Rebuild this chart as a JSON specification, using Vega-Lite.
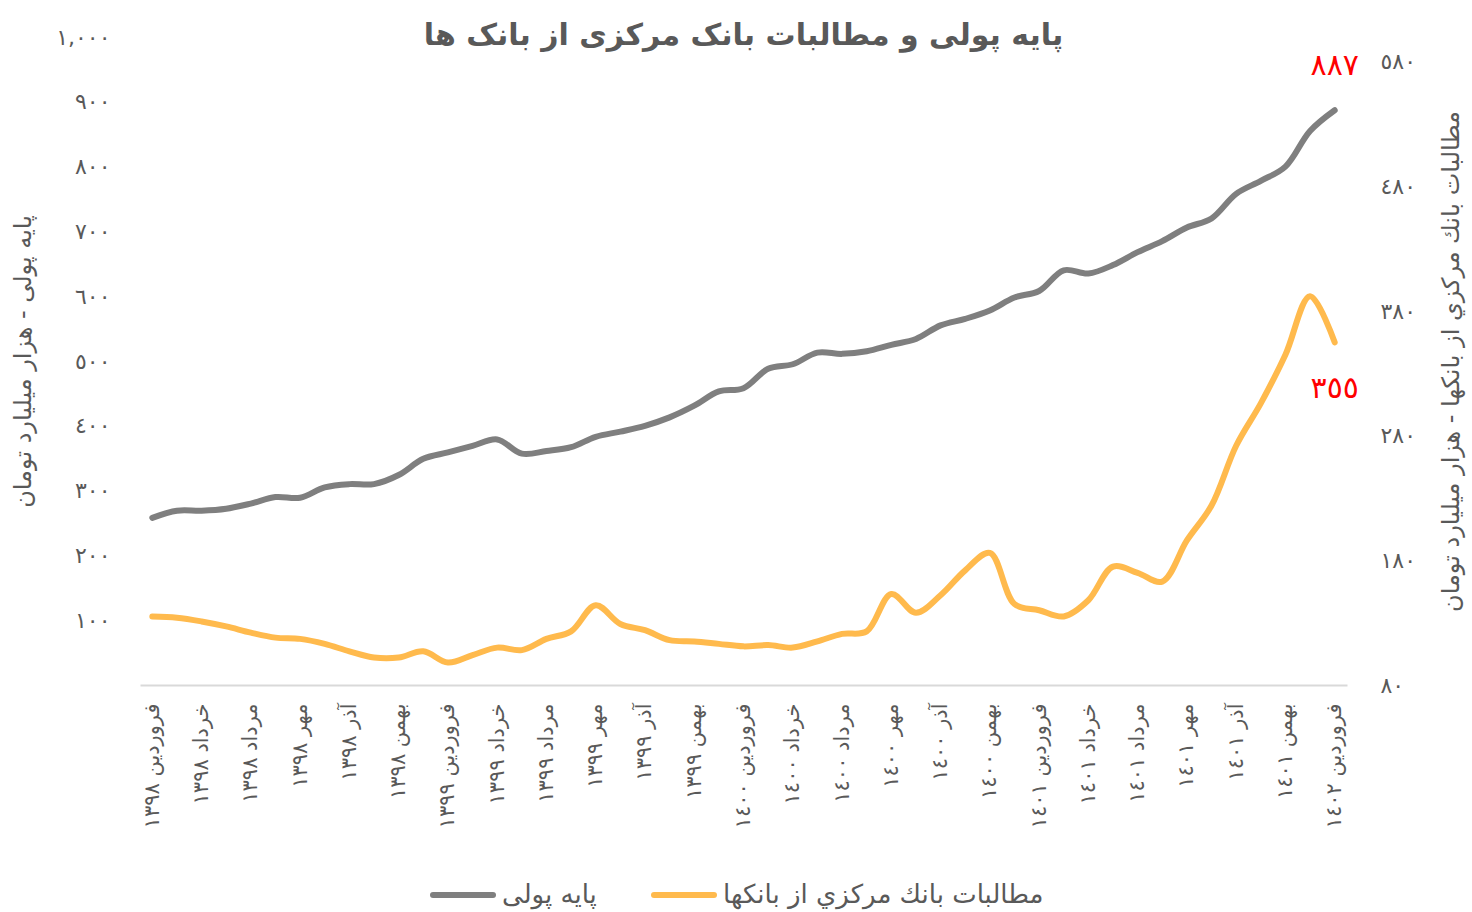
{
  "$schema": "https://vega.github.io/schema/vega-lite/v6.json",
  "width": 1207,
  "height": 648,
  "autosize": {"type": "none"},
  "padding": {"left": 140, "top": 37, "right": 125, "bottom": 227},
  "background": "white",
  "title": {"text": "پایه پولی و مطالبات بانک مرکزی از بانک ها", "fontSize": 30, "fontWeight": "bold", "color": "#595959", "font": "DejaVu Sans", "anchor": "middle", "frame": "group", "offset": -25},
  "data": {"values": [
    {"m": "فروردین ١٣٩٨", "پایه پولی": 258, "مطالبات بانك مركزي از بانكها": 135},
    {"m": "اردیبهشت ١٣٩٨", "پایه پولی": 269, "مطالبات بانك مركزي از بانكها": 134},
    {"m": "خرداد ١٣٩٨", "پایه پولی": 269, "مطالبات بانك مركزي از بانكها": 131},
    {"m": "تیر ١٣٩٨", "پایه پولی": 272, "مطالبات بانك مركزي از بانكها": 127},
    {"m": "مرداد ١٣٩٨", "پایه پولی": 280, "مطالبات بانك مركزي از بانكها": 122},
    {"m": "شهریور ١٣٩٨", "پایه پولی": 290, "مطالبات بانك مركزي از بانكها": 118},
    {"m": "مهر ١٣٩٨", "پایه پولی": 289, "مطالبات بانك مركزي از بانكها": 117},
    {"m": "آبان ١٣٩٨", "پایه پولی": 305, "مطالبات بانك مركزي از بانكها": 113},
    {"m": "آذر ١٣٩٨", "پایه پولی": 310, "مطالبات بانك مركزي از بانكها": 107},
    {"m": "دی ١٣٩٨", "پایه پولی": 310, "مطالبات بانك مركزي از بانكها": 102},
    {"m": "بهمن ١٣٩٨", "پایه پولی": 324, "مطالبات بانك مركزي از بانكها": 102},
    {"m": "اسفند ١٣٩٨", "پایه پولی": 349, "مطالبات بانك مركزي از بانكها": 107},
    {"m": "فروردین ١٣٩٩", "پایه پولی": 359, "مطالبات بانك مركزي از بانكها": 98},
    {"m": "اردیبهشت ١٣٩٩", "پایه پولی": 369, "مطالبات بانك مركزي از بانكها": 104},
    {"m": "خرداد ١٣٩٩", "پایه پولی": 379, "مطالبات بانك مركزي از بانكها": 110},
    {"m": "تیر ١٣٩٩", "پایه پولی": 357, "مطالبات بانك مركزي از بانكها": 108},
    {"m": "مرداد ١٣٩٩", "پایه پولی": 361, "مطالبات بانك مركزي از بانكها": 117},
    {"m": "شهریور ١٣٩٩", "پایه پولی": 367, "مطالبات بانك مركزي از بانكها": 123},
    {"m": "مهر ١٣٩٩", "پایه پولی": 383, "مطالبات بانك مركزي از بانكها": 144},
    {"m": "آبان ١٣٩٩", "پایه پولی": 391, "مطالبات بانك مركزي از بانكها": 129},
    {"m": "آذر ١٣٩٩", "پایه پولی": 400, "مطالبات بانك مركزي از بانكها": 124},
    {"m": "دی ١٣٩٩", "پایه پولی": 413, "مطالبات بانك مركزي از بانكها": 116},
    {"m": "بهمن ١٣٩٩", "پایه پولی": 431, "مطالبات بانك مركزي از بانكها": 115},
    {"m": "اسفند ١٣٩٩", "پایه پولی": 453, "مطالبات بانك مركزي از بانكها": 113},
    {"m": "فروردین ١٤٠٠", "پایه پولی": 458, "مطالبات بانك مركزي از بانكها": 111},
    {"m": "اردیبهشت ١٤٠٠", "پایه پولی": 488, "مطالبات بانك مركزي از بانكها": 112},
    {"m": "خرداد ١٤٠٠", "پایه پولی": 495, "مطالبات بانك مركزي از بانكها": 110},
    {"m": "تیر ١٤٠٠", "پایه پولی": 513, "مطالبات بانك مركزي از بانكها": 115},
    {"m": "مرداد ١٤٠٠", "پایه پولی": 511, "مطالبات بانك مركزي از بانكها": 121},
    {"m": "شهریور ١٤٠٠", "پایه پولی": 515, "مطالبات بانك مركزي از بانكها": 123},
    {"m": "مهر ١٤٠٠", "پایه پولی": 525, "مطالبات بانك مركزي از بانكها": 153},
    {"m": "آبان ١٤٠٠", "پایه پولی": 534, "مطالبات بانك مركزي از بانكها": 138},
    {"m": "آذر ١٤٠٠", "پایه پولی": 555, "مطالبات بانك مركزي از بانكها": 152},
    {"m": "دی ١٤٠٠", "پایه پولی": 565, "مطالبات بانك مركزي از بانكها": 172},
    {"m": "بهمن ١٤٠٠", "پایه پولی": 578, "مطالبات بانك مركزي از بانكها": 186},
    {"m": "اسفند ١٤٠٠", "پایه پولی": 598, "مطالبات بانك مركزي از بانكها": 145},
    {"m": "فروردین ١٤٠١", "پایه پولی": 608, "مطالبات بانك مركزي از بانكها": 140},
    {"m": "اردیبهشت ١٤٠١", "پایه پولی": 640, "مطالبات بانك مركزي از بانكها": 135},
    {"m": "خرداد ١٤٠١", "پایه پولی": 635, "مطالبات بانك مركزي از بانكها": 148},
    {"m": "تیر ١٤٠١", "پایه پولی": 648, "مطالبات بانك مركزي از بانكها": 175},
    {"m": "مرداد ١٤٠١", "پایه پولی": 668, "مطالبات بانك مركزي از بانكها": 170},
    {"m": "شهریور ١٤٠١", "پایه پولی": 685, "مطالبات بانك مركزي از بانكها": 163},
    {"m": "مهر ١٤٠١", "پایه پولی": 706, "مطالبات بانك مركزي از بانكها": 196},
    {"m": "آبان ١٤٠١", "پایه پولی": 720, "مطالبات بانك مركزي از بانكها": 224},
    {"m": "آذر ١٤٠١", "پایه پولی": 758, "مطالبات بانك مركزي از بانكها": 272},
    {"m": "دی ١٤٠١", "پایه پولی": 778, "مطالبات بانك مركزي از بانكها": 306},
    {"m": "بهمن ١٤٠١", "پایه پولی": 800, "مطالبات بانك مركزي از بانكها": 345},
    {"m": "اسفند ١٤٠١", "پایه پولی": 855, "مطالبات بانك مركزي از بانكها": 392},
    {"m": "فروردین ١٤٠٢", "پایه پولی": 887, "مطالبات بانك مركزي از بانكها": 355}
  ]},
  "transform": [{"fold": ["پایه پولی", "مطالبات بانك مركزي از بانكها"], "as": ["series", "value"]}],
  "encoding": {
    "x": {
      "field": "m", "type": "ordinal",
      "scale": {"type": "point", "padding": 0.5, "domain": ["فروردین ١٣٩٨","اردیبهشت ١٣٩٨","خرداد ١٣٩٨","تیر ١٣٩٨","مرداد ١٣٩٨","شهریور ١٣٩٨","مهر ١٣٩٨","آبان ١٣٩٨","آذر ١٣٩٨","دی ١٣٩٨","بهمن ١٣٩٨","اسفند ١٣٩٨","فروردین ١٣٩٩","اردیبهشت ١٣٩٩","خرداد ١٣٩٩","تیر ١٣٩٩","مرداد ١٣٩٩","شهریور ١٣٩٩","مهر ١٣٩٩","آبان ١٣٩٩","آذر ١٣٩٩","دی ١٣٩٩","بهمن ١٣٩٩","اسفند ١٣٩٩","فروردین ١٤٠٠","اردیبهشت ١٤٠٠","خرداد ١٤٠٠","تیر ١٤٠٠","مرداد ١٤٠٠","شهریور ١٤٠٠","مهر ١٤٠٠","آبان ١٤٠٠","آذر ١٤٠٠","دی ١٤٠٠","بهمن ١٤٠٠","اسفند ١٤٠٠","فروردین ١٤٠١","اردیبهشت ١٤٠١","خرداد ١٤٠١","تیر ١٤٠١","مرداد ١٤٠١","شهریور ١٤٠١","مهر ١٤٠١","آبان ١٤٠١","آذر ١٤٠١","دی ١٤٠١","بهمن ١٤٠١","اسفند ١٤٠١","فروردین ١٤٠٢"]},
      "axis": {
        "title": null,
        "values": ["فروردین ١٣٩٨","خرداد ١٣٩٨","مرداد ١٣٩٨","مهر ١٣٩٨","آذر ١٣٩٨","بهمن ١٣٩٨","فروردین ١٣٩٩","خرداد ١٣٩٩","مرداد ١٣٩٩","مهر ١٣٩٩","آذر ١٣٩٩","بهمن ١٣٩٩","فروردین ١٤٠٠","خرداد ١٤٠٠","مرداد ١٤٠٠","مهر ١٤٠٠","آذر ١٤٠٠","بهمن ١٤٠٠","فروردین ١٤٠١","خرداد ١٤٠١","مرداد ١٤٠١","مهر ١٤٠١","آذر ١٤٠١","بهمن ١٤٠١","فروردین ١٤٠٢"],
        "labelAngle": -90, "labelFontSize": 21, "labelColor": "#595959", "labelPadding": 18, "labelLimit": 300,
        "labelFont": "DejaVu Sans", "ticks": false, "grid": false, "domainColor": "#D9D9D9", "domainWidth": 2, "labelOverlap": false
      }
    }
  },
  "layer": [
    {
      "transform": [{"filter": "datum.series == 'پایه پولی'"}],
      "layer": [
        {
          "mark": {"type": "line", "strokeWidth": 6, "interpolate": "catmull-rom", "strokeCap": "round", "strokeJoin": "round"},
          "encoding": {
            "y": {"field": "value", "type": "quantitative", "scale": {"domain": [0, 1000], "nice": false, "zero": false},
              "axis": {"orient": "left", "title": "پایه پولی - هزار میلیارد تومان", "titleAngle": 270, "titleFontSize": 24, "titleFontWeight": "normal", "titleColor": "#595959", "titleFont": "DejaVu Sans", "titlePadding": 20,
                "values": [100, 200, 300, 400, 500, 600, 700, 800, 900, 1000], "format": ",d", "labelFontSize": 22, "labelColor": "#595959", "labelFont": "DejaVu Sans", "labelPadding": 30, "domain": false, "ticks": false, "grid": false}},
            "color": {"field": "series", "type": "nominal",
              "scale": {"domain": ["پایه پولی", "مطالبات بانك مركزي از بانكها"], "range": ["#7F7F7F", "#FFBA4D"]},
              "legend": {"title": null, "orient": "none", "legendX": 290, "legendY": 825, "direction": "horizontal", "symbolType": "stroke", "symbolStrokeWidth": 6, "symbolSize": 3600, "labelFontSize": 26, "labelColor": "#595959", "labelFont": "DejaVu Sans", "labelLimit": 500, "columnPadding": 45, "labelOffset": 6,
                "encode": {"symbols": {"update": {"strokeCap": {"value": "round"}}}}}}
          }
        },
        {
          "transform": [{"filter": "datum.m == 'فروردین ١٤٠٢'"}],
          "mark": {"type": "text", "dy": -44, "fontSize": 30, "fill": "#FF0000", "font": "DejaVu Sans"},
          "encoding": {
            "y": {"field": "value", "type": "quantitative"},
            "text": {"field": "value", "type": "quantitative", "format": "d"}
          }
        }
      ]
    },
    {
      "transform": [{"filter": "datum.series == 'مطالبات بانك مركزي از بانكها'"}],
      "layer": [
        {
          "mark": {"type": "line", "strokeWidth": 6, "interpolate": "catmull-rom", "strokeCap": "round", "strokeJoin": "round"},
          "encoding": {
            "y": {"field": "value", "type": "quantitative", "scale": {"domain": [80, 600], "nice": false, "zero": false},
              "axis": {"orient": "right", "title": "مطالبات بانك مركزي از بانكها - هزار ميليارد تومان", "titleAngle": 270, "titleBaseline": "top", "titleFontSize": 24, "titleFontWeight": "normal", "titleColor": "#595959", "titleFont": "DejaVu Sans", "titlePadding": 24,
                "values": [80, 180, 280, 380, 480, 580], "format": "d", "labelFontSize": 22, "labelColor": "#595959", "labelFont": "DejaVu Sans", "labelPadding": 33, "domain": false, "ticks": false, "grid": false}},
            "color": {"field": "series", "type": "nominal"}
          }
        },
        {
          "transform": [{"filter": "datum.m == 'فروردین ١٤٠٢'"}],
          "mark": {"type": "text", "dy": 47, "fontSize": 30, "fill": "#FF0000", "font": "DejaVu Sans"},
          "encoding": {
            "y": {"field": "value", "type": "quantitative"},
            "text": {"field": "value", "type": "quantitative", "format": "d"}
          }
        }
      ]
    }
  ],
  "resolve": {"scale": {"y": "independent"}},
  "config": {
    "view": {"stroke": null},
    "font": "DejaVu Sans",
    "locale": {
      "number": {"decimal": ".", "thousands": ",", "grouping": [3], "currency": ["", ""], "numerals": ["٠", "١", "٢", "٣", "٤", "٥", "٦", "٧", "٨", "٩"]}
    }
  }
}
